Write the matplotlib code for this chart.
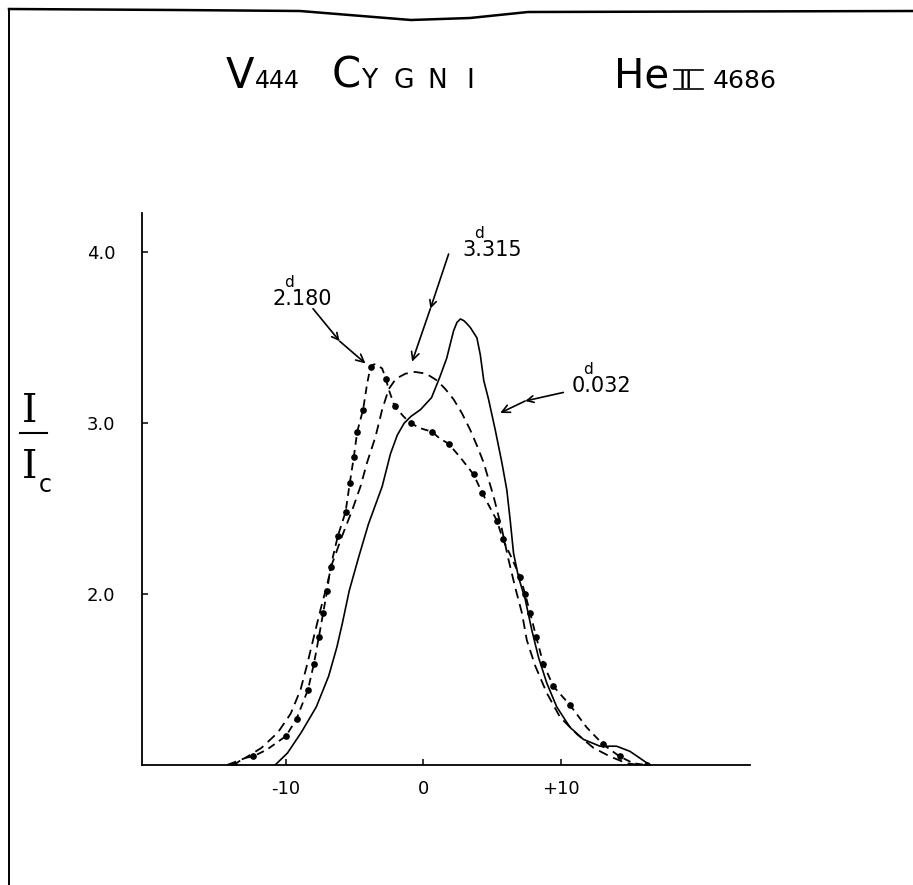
import matplotlib
matplotlib.use('Agg')
import matplotlib.pyplot as plt
from matplotlib.lines import Line2D

plt.rcParams['lines.scale_dashes'] = False
plt.rcParams['font.family'] = ['DejaVu Sans']

W, H = 913, 885

# ---------------- data ----------------
# velocity (arbitrary units) vs I/Ic
vel_0032 = [-10.8, -9.9, -8.9, -7.8, -6.9, -6.3, -5.9, -5.4, -4.7, -4.0, -3.0, -2.4,
            -1.9, -1.4, -0.9, -0.2, 0.6, 1.2, 1.7, 2.2, 2.45, 2.7, 2.95, 3.2, 3.42,
            3.9, 4.15, 4.4, 4.75, 5.24, 5.72, 6.08, 6.33, 6.57, 6.93, 7.42, 7.90,
            8.39, 8.99, 9.72, 10.69, 11.66, 12.87, 14.08, 15.05, 15.78, 16.5]
ratio_0032 = [1.0, 1.07, 1.19, 1.34, 1.52, 1.69, 1.83, 2.02, 2.22, 2.41, 2.63, 2.82,
              2.93, 3.0, 3.04, 3.08, 3.15, 3.27, 3.38, 3.54, 3.59, 3.61, 3.60, 3.58, 3.56,
              3.50, 3.40, 3.25, 3.14, 2.96, 2.77, 2.61, 2.43, 2.24, 2.10, 1.97, 1.79,
              1.63, 1.48, 1.34, 1.22, 1.15, 1.11, 1.11, 1.08, 1.04, 1.0]

vel_3315 = [-14.3, -13.0, -11.8, -10.6, -9.67, -8.95, -8.46, -7.98, -7.49, -7.0, -6.64,
            -5.92, -5.19, -4.58, -4.10, -3.49, -3.0, -2.52, -2.0, -1.3, -0.6, 0.2, 1.0,
            1.6, 2.2, 2.8, 3.42, 3.9, 4.39, 5.12, 5.72, 6.21, 6.69, 7.18, 7.54, 8.15,
            9.0, 9.96, 11.2, 12.4, 13.6, 14.8, 15.8]
ratio_3315 = [1.0, 1.04, 1.10, 1.19, 1.30, 1.44, 1.59, 1.75, 1.91, 2.06, 2.18,
              2.34, 2.49, 2.63, 2.77, 2.92, 3.08, 3.20, 3.26, 3.29, 3.30, 3.29, 3.25,
              3.20, 3.14, 3.06, 2.96, 2.87, 2.77, 2.57, 2.38, 2.20, 2.04, 1.89, 1.73, 1.58,
              1.42, 1.28, 1.18, 1.10, 1.05, 1.01, 1.0]

vel_2180 = [-13.8, -13.1, -12.4, -11.4, -10.0, -9.24, -8.41, -7.98, -7.61, -7.30, -7.01,
            -6.76, -6.23, -5.67, -5.36, -5.07, -4.82, -4.39, -4.10, -3.85, -3.6, -3.37,
            -3.0, -2.74, -2.49, -2.10, -1.45, -0.93, -0.2, 0.63, 1.2, 1.84, 2.69, 3.66,
            4.3, 5.36, 5.79, 6.33, 7.05, 7.42, 7.78, 8.22, 8.75, 9.48, 10.69, 11.9,
            13.1, 14.3, 15.3, 16.3]
ratio_2180 = [1.0, 1.04, 1.05, 1.09, 1.17, 1.27, 1.44, 1.59, 1.75, 1.89, 2.02,
              2.16, 2.34, 2.48, 2.65, 2.80, 2.95, 3.08, 3.23, 3.33, 3.345, 3.34,
              3.32, 3.26, 3.19, 3.10, 3.04, 3.00, 2.97, 2.95, 2.91, 2.88, 2.80, 2.70,
              2.59, 2.43, 2.32, 2.23, 2.10, 2.00, 1.89, 1.75, 1.59, 1.46, 1.35, 1.22,
              1.12, 1.05, 1.01, 1.0]

x_ticks = [-10, 0, 10]
x_tick_labels = ['-10', '0', '+10']
y_ticks = [2.0, 3.0, 4.0]
y_tick_labels = ['2.0', '3.0', '4.0']

phase_int = ['2', '3', '0']
phase_dec = ['180', '315', '032']
label_xy = [(-11.0, 3.69), (2.84, 3.98), (10.8, 3.18)]
arrow_tail = [(-8.04, 3.67), (1.84, 3.99), (10.2, 3.18)]
arrow_mid = [(-6.1, 3.48), (0.51, 3.67), (7.42, 3.13)]
arrow_tip = [(-4.22, 3.35), (-0.82, 3.36), (5.6, 3.06)]

# ---------------- figure ----------------
fig = plt.figure(figsize=(W / 100, H / 100), dpi=100)
fig.patch.set_facecolor('white')
ax = fig.add_axes([142 / W, (H - 765) / H, (750 - 142) / W, (765 - 213) / H])
ax.set_xlim(-20.5, 23.8)
ax.set_ylim(1.0, 4.23)

ax.plot(vel_0032, ratio_0032, color='black', lw=1.2, solid_capstyle='round')
ax.plot(vel_3315, ratio_3315, color='black', lw=1.3, dashes=(7, 4.3))
ax.plot(vel_2180, ratio_2180, color='black', lw=1.3, dashes=(5.5, 3.8),
        marker='o', ms=3.8, markevery=0.033)

for sp in ['top', 'right']:
    ax.spines[sp].set_visible(False)
for sp in ['left', 'bottom']:
    ax.spines[sp].set_linewidth(1.3)

ax.set_xticks(x_ticks)
ax.set_xticklabels(x_tick_labels)
ax.set_yticks(y_ticks)
ax.set_yticklabels(y_tick_labels)
ax.tick_params(axis='both', direction='in', length=4.5, width=1.1, labelsize=13)
ax.tick_params(axis='x', pad=10.5)
ax.tick_params(axis='y', pad=19)

for i in range(3):
    x0, y0 = label_xy[i]
    ax.text(x0, y0, phase_int[i] + '.' + phase_dec[i], fontsize=15,
            ha='left', va='baseline')
    ax.annotate('d', xy=(x0, y0), xytext=(11.9, 13), textcoords='offset points',
                fontsize=11, ha='center', va='baseline')
    ax.annotate('', xy=arrow_mid[i], xytext=arrow_tail[i],
                arrowprops=dict(arrowstyle='->', lw=1.2, color='black',
                                shrinkA=0, shrinkB=0, mutation_scale=12))
    ax.annotate('', xy=arrow_tip[i], xytext=arrow_mid[i],
                arrowprops=dict(arrowstyle='->', lw=1.2, color='black',
                                shrinkA=0, shrinkB=0, mutation_scale=14))


def ftext(px, py, s, size, **kw):
    fig.text(px / W, 1 - py / H, s, fontsize=size, ha='left', va='baseline', **kw)


def fline(pxs, pys, lw=1.3):
    fig.add_artist(Line2D([p / W for p in pxs], [1 - p / H for p in pys],
                          transform=fig.transFigure, color='black', lw=lw))


# title
ftext(226, 88, 'V', 30)
ftext(255, 88, '444', 17)
ftext(332, 88, 'C', 30)
ftext(361, 88, 'Y', 19)
ftext(393, 88, 'G', 19)
ftext(427, 88, 'N', 19)
ftext(466, 88, 'I', 19)
ftext(614, 88, 'He', 29)
ftext(679, 88, 'II', 17)
fline([674, 703], [70, 70], lw=1.2)
fline([674, 703], [89, 89], lw=1.2)
ftext(713, 88, '4686', 18)

# y label I / Ic
fig.text(30 / W, 1 - 422 / H, 'I', fontsize=28, family='DejaVu Serif',
         ha='center', va='baseline')
fline([20, 47], [433, 433], lw=1.5)
fig.text(30 / W, 1 - 478 / H, 'I', fontsize=28, family='DejaVu Serif',
         ha='center', va='baseline')
fig.text(39 / W, 1 - 492 / H, 'c', fontsize=17, ha='left', va='baseline')

# page border
fline([9, 176, 300, 411, 470, 528, 913], [9, 10, 11, 20, 18, 12, 11], lw=1.8)
fline([9, 9], [9, 885], lw=1.4)

fig.savefig('out.png', dpi=100, facecolor='white')
